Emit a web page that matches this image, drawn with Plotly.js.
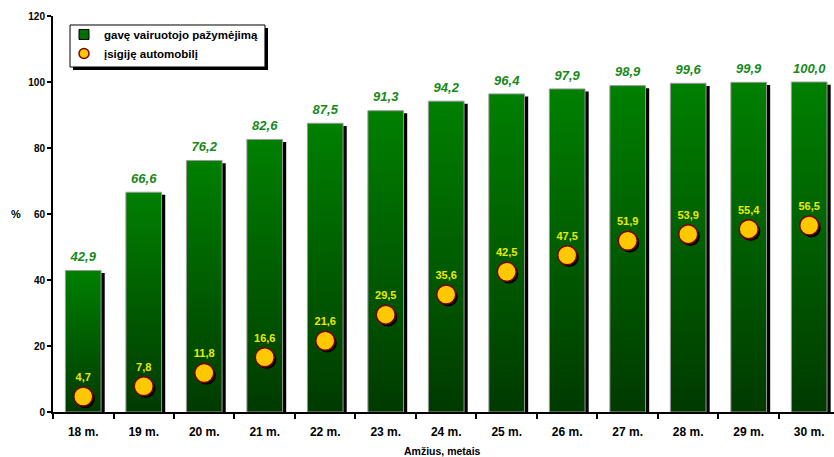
<!DOCTYPE html>
<html><head><meta charset="utf-8">
<script src="https://cdn.plot.ly/plotly-3.0.1.min.js"></script>
<style>html,body{margin:0;padding:0;background:#fff}#c{width:834px;height:457px}</style>
</head><body><div id="c"></div>
<script>
const categories = ['18 m.','19 m.','20 m.','21 m.','22 m.','23 m.','24 m.','25 m.','26 m.','27 m.','28 m.','29 m.','30 m.'];
const licenceValues = [42.9,66.6,76.2,82.6,87.5,91.3,94.2,96.4,97.9,98.9,99.6,99.9,100.0];
const carValues = [4.7,7.8,11.8,16.6,21.6,29.5,35.6,42.5,47.5,51.9,53.9,55.4,56.5];
const seriesNames = ['gavę vairuotojo pažymėjimą','įsigiję automobilį'];

const fmt = v => v.toFixed(1).replace('.', ',');
const idx = categories.map((_, i) => i);
const hw = 0.295;
const traces = [];

// bar shadows
categories.forEach((c, i) => {
  const v = licenceValues[i];
  const x0 = i - hw + 0.06, x1 = i + hw + 0.06;
  traces.push({type:'scatter', mode:'lines', x:[x0,x1,x1,x0,x0], y:[0,0,v-0.8,v-0.8,0],
    fill:'toself', fillcolor:'#000', line:{width:0}, showlegend:false, hoverinfo:'skip'});
});
// bars with gradient
categories.forEach((c, i) => {
  const v = licenceValues[i];
  const x0 = i - hw, x1 = i + hw;
  traces.push({type:'scatter', mode:'lines', x:[x0,x1,x1,x0,x0], y:[0,0,v,v,0],
    fill:'toself', fillcolor:'#006400',
    fillgradient:{type:'vertical', colorscale:[[0,'#003a00'],[1,'#008000']]},
    line:{width:1, color:'#9a9a9a'}, showlegend:false, hoverinfo:'skip'});
});
// bar value labels
traces.push({type:'scatter', mode:'markers+text', x:idx, y:licenceValues, text:licenceValues.map(fmt),
  textposition:'top center', marker:{size:8, opacity:0},
  textfont:{family:'Liberation Sans, Arial', size:13, color:'#17891a', weight:'bold', style:'italic'},
  showlegend:false, hoverinfo:'skip'});
// marker shadows
traces.push({type:'scatter', mode:'markers', x:idx.map(i => i + 0.035), y:carValues.map(v => v - 0.7),
  marker:{size:19, color:'#000'}, showlegend:false, hoverinfo:'skip'});
// markers
traces.push({type:'scatter', mode:'markers+text', x:idx, y:carValues, text:carValues.map(fmt),
  textposition:'top center', textfont:{family:'Liberation Sans, Arial', size:11, color:'#eaea00', weight:'bold'},
  marker:{size:19, color:'#ffc800', line:{color:'#7a0000', width:1.5}}, showlegend:false, hoverinfo:'skip'});
// legend entries
traces.push({type:'scatter', mode:'markers', x:[null], y:[null], name:seriesNames[0],
  marker:{symbol:'square', size:10, color:'#007000', line:{color:'#000', width:1}}});
traces.push({type:'scatter', mode:'markers', x:[null], y:[null], name:seriesNames[1],
  marker:{symbol:'circle', size:10, color:'#ffc800', line:{color:'#7a0000', width:1.5}}});

const layout = {
  width:834, height:457,
  margin:{l:53, r:0, t:16, b:45},
  paper_bgcolor:'#fff', plot_bgcolor:'#fff',
  font:{family:'Liberation Sans, Arial', color:'#000'},
  showlegend:true,
  legend:{x:0.0141, y:0.99, xanchor:'left', yanchor:'top', bgcolor:'rgba(0,0,0,0)', borderwidth:0,
    font:{size:11.5, weight:'bold', family:'Liberation Sans, Arial'}, tracegroupgap:0, itemwidth:30},
  xaxis:{range:[-0.5, 12.41], tickvals:idx, ticktext:categories, ticks:'', showgrid:false, zeroline:false,
    showline:true, linecolor:'#000', linewidth:2, ticklabelstandoff:8,
    tickfont:{size:12, weight:'bold'},
    minor:{tick0:0.5, dtick:1, ticks:'outside', ticklen:5, tickwidth:2, tickcolor:'#000', showgrid:false}},
  yaxis:{range:[0,120], tickvals:[0,20,40,60,80,100,120], ticks:'outside', ticklen:4, tickwidth:2, tickcolor:'#000',
    showgrid:false, zeroline:false, showline:true, linecolor:'#000', linewidth:2,
    tickfont:{size:10, weight:'bold'}},
  shapes:[
    {type:'rect', xref:'paper', yref:'paper', x0:0.0256, x1:0.2753, y0:0.8636, y1:0.9697, fillcolor:'#000', line:{width:0}, layer:'above'},
    {type:'rect', xref:'paper', yref:'paper', x0:0.0218, x1:0.2714, y0:0.8712, y1:0.9773, fillcolor:'#fff', line:{width:1, color:'#000'}, layer:'above'}
  ],
  annotations:[
    {text:'%', xref:'paper', yref:'paper', x:-0.047, y:0.5, showarrow:false,
      font:{size:11, weight:'bold'}, xanchor:'center', yanchor:'middle'},
    {text:'Amžius, metais', xref:'paper', yref:'paper', x:0.499, y:-0.098, showarrow:false,
      font:{size:10.5, weight:'bold'}, xanchor:'center', yanchor:'middle'}
  ]
};
Plotly.newPlot('c', traces, layout, {displayModeBar:false, staticPlot:true});
</script></body></html>
